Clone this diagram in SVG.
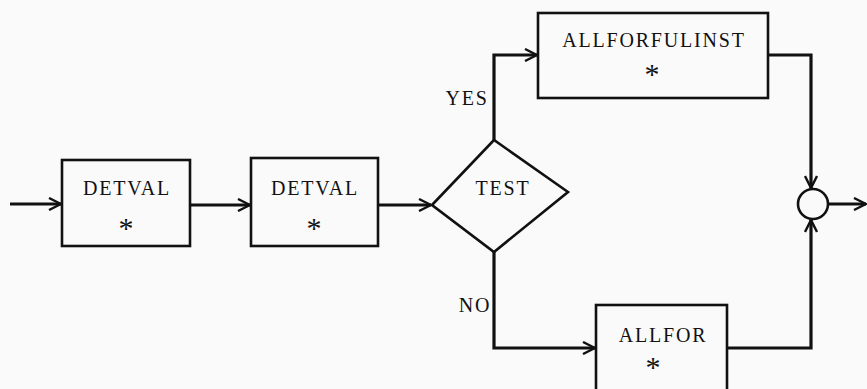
<svg xmlns="http://www.w3.org/2000/svg" width="867" height="389" viewBox="0 0 867 389">
  <style>
    .box { fill: none; stroke: #111; stroke-width: 2.6; }
    .wire { fill: none; stroke: #111; stroke-width: 3.2; }
    .lbl { font-family: "Liberation Serif", "Times New Roman", serif; font-size: 20px; fill: #111; letter-spacing: 1.8px; text-anchor: middle; }
    .star { font-family: "Liberation Serif", "Times New Roman", serif; font-size: 30px; fill: #111; text-anchor: middle; }
  </style>
  <defs>
    <marker id="arr" viewBox="0 0 14 14" refX="13" refY="7" markerWidth="14" markerHeight="14" markerUnits="userSpaceOnUse" orient="auto">
      <path d="M1,1 L13,7 L1,13" fill="none" stroke="#111" stroke-width="2.4"/>
    </marker>
  </defs>
  <rect width="867" height="389" fill="#fafafa"/>

  <g id="connectors">
    <line class="wire" x1="10" y1="204" x2="61" y2="204" marker-end="url(#arr)"/>
    <line class="wire" x1="190" y1="205" x2="250" y2="205" marker-end="url(#arr)"/>
    <line class="wire" x1="378" y1="205" x2="431" y2="205" marker-end="url(#arr)"/>
    <polyline class="wire" points="494,140 494,55 537,55" marker-end="url(#arr)"/>
    <polyline class="wire" points="494,252 494,348 595,348" marker-end="url(#arr)"/>
    <polyline class="wire" points="768,55 811,55 811,188" marker-end="url(#arr)"/>
    <polyline class="wire" points="727,348 811,348 811,220" marker-end="url(#arr)"/>
    <line class="wire" x1="829" y1="204" x2="866" y2="204" marker-end="url(#arr)"/>
  </g>

  <g id="detval1">
    <rect class="box" x="62" y="160" width="128" height="86"/>
    <text class="lbl" x="127" y="195">DETVAL</text>
    <text class="star" x="126" y="238">*</text>
  </g>

  <g id="detval2">
    <rect class="box" x="251" y="158" width="127" height="88"/>
    <text class="lbl" x="315" y="195">DETVAL</text>
    <text class="star" x="314" y="238">*</text>
  </g>

  <g id="test">
    <polygon class="box" points="432,205 494,140 568,192 494,252"/>
    <text class="lbl" x="503" y="195">TEST</text>
  </g>

  <g id="yes-label">
    <text class="lbl" x="467" y="105">YES</text>
  </g>
  <g id="no-label">
    <text class="lbl" x="475" y="312">NO</text>
  </g>

  <g id="allforfulinst">
    <rect class="box" x="538" y="13" width="230" height="85"/>
    <text class="lbl" x="654" y="47">ALLFORFULINST</text>
    <text class="star" x="652" y="84">*</text>
  </g>

  <g id="allfor">
    <rect class="box" x="596" y="305" width="131" height="100"/>
    <text class="lbl" x="663" y="342">ALLFOR</text>
    <text class="star" x="653" y="377">*</text>
  </g>

  <g id="join">
    <circle class="box" cx="813" cy="204" r="15"/>
  </g>
</svg>
